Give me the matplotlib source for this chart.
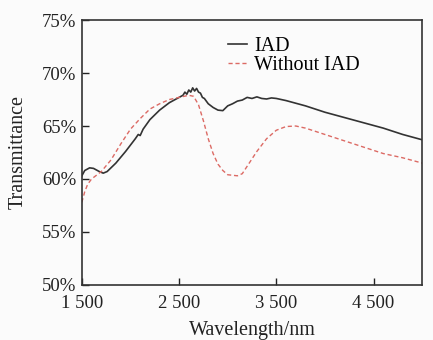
import matplotlib
matplotlib.use("Agg")
import matplotlib.pyplot as plt
from matplotlib.ticker import FuncFormatter

plt.rcParams['font.family'] = ['Liberation Serif', 'DejaVu Serif']

iad_wl = [1500, 1530, 1580, 1620, 1680, 1720, 1760, 1850, 1950, 2050, 2080, 2100, 2130,
          2200, 2300, 2400, 2500, 2540, 2560, 2580, 2600, 2620, 2640, 2660, 2680, 2700,
          2720, 2740, 2760, 2800, 2850, 2900, 2950, 3000, 3050, 3100, 3150, 3200, 3250,
          3300, 3350, 3400, 3450, 3500, 3600, 3800, 4000, 4200, 4400, 4600, 4800, 5000]
iad_t = [60.3, 60.8, 61.05, 61.0, 60.7, 60.55, 60.7, 61.5, 62.6, 63.8, 64.2, 64.1, 64.7,
         65.6, 66.5, 67.2, 67.7, 67.9, 68.2, 68.0, 68.4, 68.2, 68.6, 68.3, 68.55, 68.2,
         68.1, 67.7, 67.6, 67.1, 66.75, 66.5, 66.45, 66.9, 67.1, 67.35, 67.45, 67.7, 67.6,
         67.75, 67.6, 67.55, 67.65, 67.6, 67.4, 66.9, 66.3, 65.8, 65.3, 64.8, 64.2, 63.7]

wo_wl = [1500, 1530, 1560, 1600, 1650, 1700, 1800, 1900, 2000, 2100, 2200, 2300, 2400,
         2500, 2600, 2650, 2700, 2750, 2800, 2850, 2900, 2950, 3000, 3100, 3150, 3200,
         3300, 3400, 3500, 3600, 3700, 3800, 4000, 4200, 4400, 4600, 4800, 5000]
wo_t = [57.8, 58.8, 59.5, 60.0, 60.35, 60.7, 61.8, 63.3, 64.7, 65.7, 66.6, 67.1, 67.5,
        67.7, 67.9, 67.8, 67.0, 65.5, 63.8, 62.4, 61.4, 60.8, 60.4, 60.3, 60.5, 61.2,
        62.6, 63.8, 64.6, 64.95, 65.0, 64.8, 64.2, 63.6, 63.0, 62.4, 62.0, 61.5]

xticks = [1500, 2500, 3500, 4500]
xticklabels = ['1 500', '2 500', '3 500', '4 500']
yticks = [50, 55, 60, 65, 70, 75]

fig = plt.figure(figsize=(4.33, 3.4), dpi=100)
fig.patch.set_facecolor('#fbfbfb')
ax = fig.add_axes([0.189, 0.162, 0.786, 0.779])
ax.set_facecolor('#fbfbfb')

ax.plot(iad_wl, iad_t, color='#333333', lw=1.2, label='IAD')
ax.plot(wo_wl, wo_t, color='#dc6a64', lw=1.0, ls=(0, (3, 2)), label='Without IAD')

ax.set_xlim(1500, 5000)
ax.set_ylim(50, 75)
ax.set_xticks(xticks)
ax.set_xticklabels(xticklabels)
ax.set_yticks(yticks)
ax.yaxis.set_major_formatter(FuncFormatter(lambda v, p: f'{int(v)}%'))
ax.tick_params(direction='in', labelsize=13.5, length=5, width=1, colors='#222222')
ax.tick_params(axis='x', top=False, pad=7)
ax.tick_params(axis='y', right=False, pad=4)
for s in ax.spines.values():
    s.set_linewidth(1.2)
    s.set_color('#333333')

ax.set_ylabel('Transmittance', fontsize=14.5, color='#222222', labelpad=10)
ax.set_xlabel('Wavelength/nm', fontsize=14.5, color='#222222', labelpad=7)

ax.legend(loc='upper left', bbox_to_anchor=(0.43, 0.935), frameon=False, fontsize=14.5,
          handlelength=0.95, handletextpad=0.35, labelspacing=0.0, borderaxespad=0,
          borderpad=0)

fig.savefig('out.png', dpi=100, facecolor=fig.get_facecolor())
